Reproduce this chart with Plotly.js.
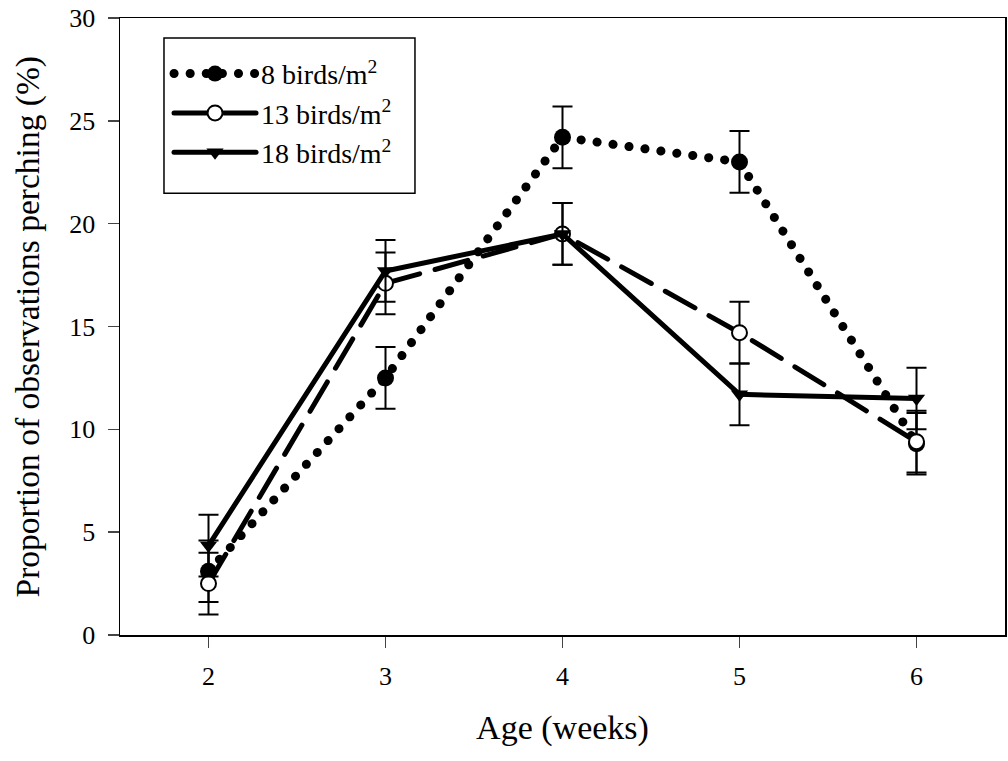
<!DOCTYPE html>
<html><head><meta charset="utf-8">
<script src="https://cdn.plot.ly/plotly-3.0.1.min.js"></script>
<style>body{margin:0;background:#fff}#chart{width:1008px;height:761px}
#warm{position:absolute;left:300px;top:300px;font-size:12px;color:#fff;line-height:1;white-space:pre;pointer-events:none}</style>
</head><body><div id="chart"></div><div id="warm"></div>
<script>
const ageWeeks = [2, 3, 4, 5, 6];
const birds8 = [3.1, 12.5, 24.2, 23.0, 9.3];
const birds8Err = [1.5, 1.5, 1.5, 1.5, 1.5];
const birds13 = [2.5, 17.1, 19.5, 14.7, 9.4];
const birds13Err = [1.5, 1.5, 1.5, 1.5, 1.5];
const birds18 = [4.35, 17.7, 19.5, 11.7, 11.5];
const birds18Err = [1.5, 1.5, 1.5, 1.5, 1.5];
const seriesNames = ['8 birds/m<sup>2</sup>', '13 birds/m<sup>2</sup>', '18 birds/m<sup>2</sup>'];
const xTicks = [2, 3, 4, 5, 6];
const yTicks = [0, 5, 10, 15, 20, 25, 30];
const xTitle = 'Age (weeks)';
const yTitle = 'Proportion of observations perching (%)';

const FAM = 'Liberation Serif, Times New Roman, serif';
function eb(arr){return {type:'data', array:arr, visible:true, color:'#000', thickness:2, width:10};}

const t8 = {x: ageWeeks, y: birds8, error_y: eb(birds8Err), name: seriesNames[0], legendgroup:'a', mode:'lines+markers',
   line:{color:'#000', width:9, dash:'0.1px,16px'}, marker:{symbol:'circle', size:17, color:'#000'}};
const t13 = {x: ageWeeks, y: birds13, error_y: eb(birds13Err), name: seriesNames[1], legendgroup:'b', mode:'lines+markers',
   line:{color:'#000', width:5, dash:'34px,16px'}, marker:{symbol:'circle', size:15, color:'#fff', line:{color:'#000', width:2}}};
const t18 = {x: ageWeeks, y: birds18, error_y: eb(birds18Err), name: seriesNames[2], legendgroup:'c', mode:'lines+markers',
   line:{color:'#000', width:5, dash:'solid'}, marker:{symbol:'triangle-down', size:15, color:'#000'}};

const layout = {
  width:1008, height:761,
  margin:{l:120, r:3, t:18, b:126},
  paper_bgcolor:'#fff', plot_bgcolor:'#fff',
  font:{family:FAM, color:'#000', size:26},
  showlegend:true,
  legend:{x:0.0554, y:0.950, xanchor:'left', yanchor:'top', borderwidth:0,
          bgcolor:'rgba(0,0,0,0)', font:{family:FAM, size:28, color:'#000'}, itemwidth:82, tracegroupgap:9, traceorder:'normal'},
  shapes:[{type:'rect', xref:'paper', yref:'paper', x0:0.0497, x1:0.3333, y0:0.716, y1:0.9676,
           line:{color:'#000', width:1.5}, fillcolor:'#fff', layer:'above'}],
  annotations:[{text:yTitle, textangle:-90, xref:'paper', yref:'paper', x:-0.104, y:0.5,
                xanchor:'center', yanchor:'middle', showarrow:false, font:{family:FAM, size:33.5, color:'#000'}}],
  xaxis:{range:[1.5, 6.5], tickvals:xTicks, ticktext:xTicks.map(String), ticks:'outside', ticklen:11, tickwidth:1.5,
         ticklabelstandoff:6,
         showline:true, linecolor:'#000', linewidth:1.5, mirror:true, showgrid:false, zeroline:false,
         title:{text:xTitle, font:{family:FAM, size:34, color:'#000'}, standoff:25},
         tickfont:{family:FAM, size:26, color:'#000'}},
  yaxis:{range:[0, 30], tickvals:yTicks, ticktext:yTicks.map(String), ticks:'outside', ticklen:11, tickwidth:1.5,
         ticklabelstandoff:7,
         showline:true, linecolor:'#000', linewidth:1.5, mirror:true, showgrid:false, zeroline:false,
         tickfont:{family:FAM, size:26, color:'#000'}}
};

function repaint(){
  var w = document.getElementById('warm');
  var fams = ['monospace', 'Lato', 'Roboto', 'Open Sans', 'Inter', 'DejaVu Serif', 'Liberation Mono', 'Liberation Serif'];
  w.innerHTML = fams.map(function(f){ return '<span style="font-family:\'' + f + '\'">&#160;</span>'; }).join('');
  var svgs = document.querySelectorAll('#chart svg');
  svgs.forEach(function(s){ s.style.display = 'none'; });
  void document.body.offsetHeight;
  svgs.forEach(function(s){ s.style.display = ''; });
  void document.body.offsetHeight;
}
function finish(){
  document.querySelectorAll('.js-line').forEach(function(p){ p.style.strokeLinecap = 'round'; });
  repaint();
  setTimeout(repaint, 60);
}
const cfg = {displayModeBar:false, staticPlot:true};
Plotly.newPlot('chart', [t8, t13, t18], layout, cfg).then(finish);
</script></body></html>
